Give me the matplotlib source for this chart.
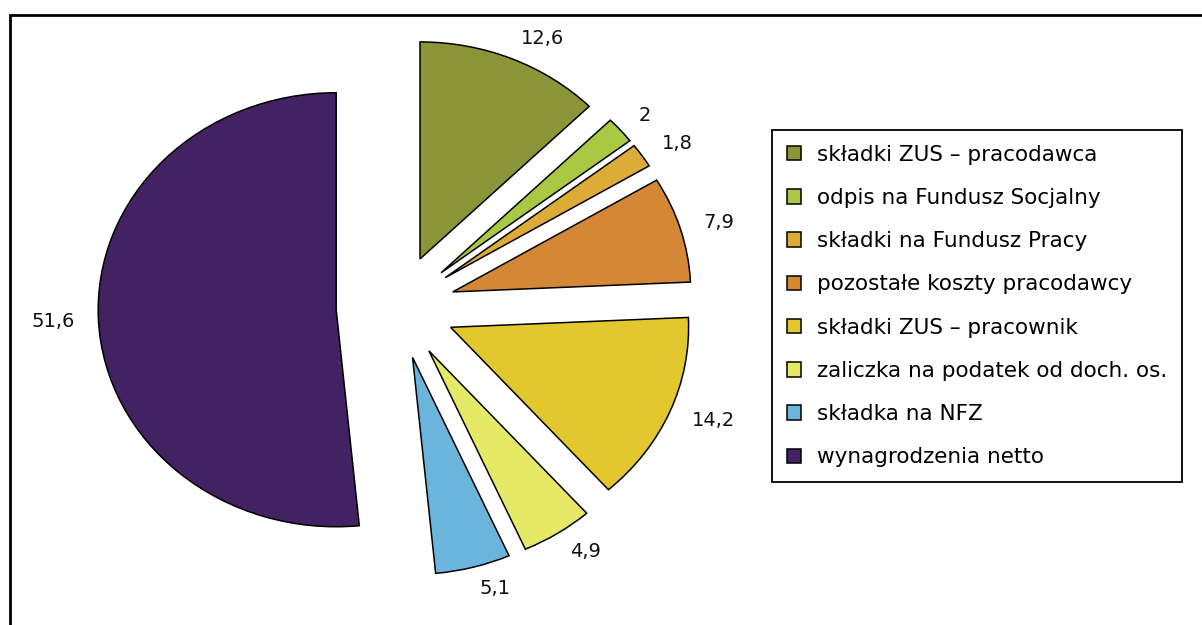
import matplotlib.pyplot as plt
from matplotlib.patches import Rectangle

categories = ['składki ZUS – pracodawca', 'odpis na Fundusz Socjalny',
              'składki na Fundusz Pracy', 'pozostałe koszty pracodawcy',
              'składki ZUS – pracownik', 'zaliczka na podatek od doch. os.',
              'składka na NFZ', 'wynagrodzenia netto']
values = [12.6, 2, 1.8, 7.9, 14.2, 4.9, 5.1, 51.6]
colors = ['#8c9438', '#a9c843', '#dcab38', '#d48735',
          '#e2c82e', '#e6e966', '#6bb5dc', '#432263']

W, H = 1202, 625
fig = plt.figure(figsize=(W / 100, H / 100), dpi=100)
ax = fig.add_axes([0, 0, 1, 1])

value_labels = [('%g' % v).replace('.', ',') for v in values]
wedges, texts = ax.pie(values, labels=value_labels, colors=colors,
                       startangle=90, counterclock=False,
                       explode=[0.24] * 7 + [0.26], labeldistance=1.1,
                       wedgeprops=dict(edgecolor='black', linewidth=1.1),
                       textprops=dict(fontsize=14, color='#111111'))

# pie is a bit wider than tall; center at (398, 307) px
rx, ry = 238.0, 217.0
cx, cy = 398.0, 307.0
ax.set_aspect('auto')
ax.set_xlim(-cx / rx, (W - cx) / rx)
ax.set_ylim(-(H - cy) / ry, cy / ry)
ax.axis('off')

leg = fig.legend(wedges, categories, loc='upper left',
                 bbox_to_anchor=(772 / W, 1 - 130 / H),
                 fontsize=15.5, frameon=True, fancybox=False,
                 edgecolor='black', framealpha=1, borderaxespad=0,
                 borderpad=0.68, labelspacing=1.08, handlelength=0.65,
                 handleheight=0.65, handletextpad=0.75)
leg.get_frame().set_linewidth(1.3)

# outer chart border
fig.patches.append(Rectangle((10 / W, -0.1), 1.2, 1.1 - 15 / H,
                             transform=fig.transFigure, fill=False,
                             edgecolor='black', linewidth=2))

fig.savefig('out.png', dpi=100)
